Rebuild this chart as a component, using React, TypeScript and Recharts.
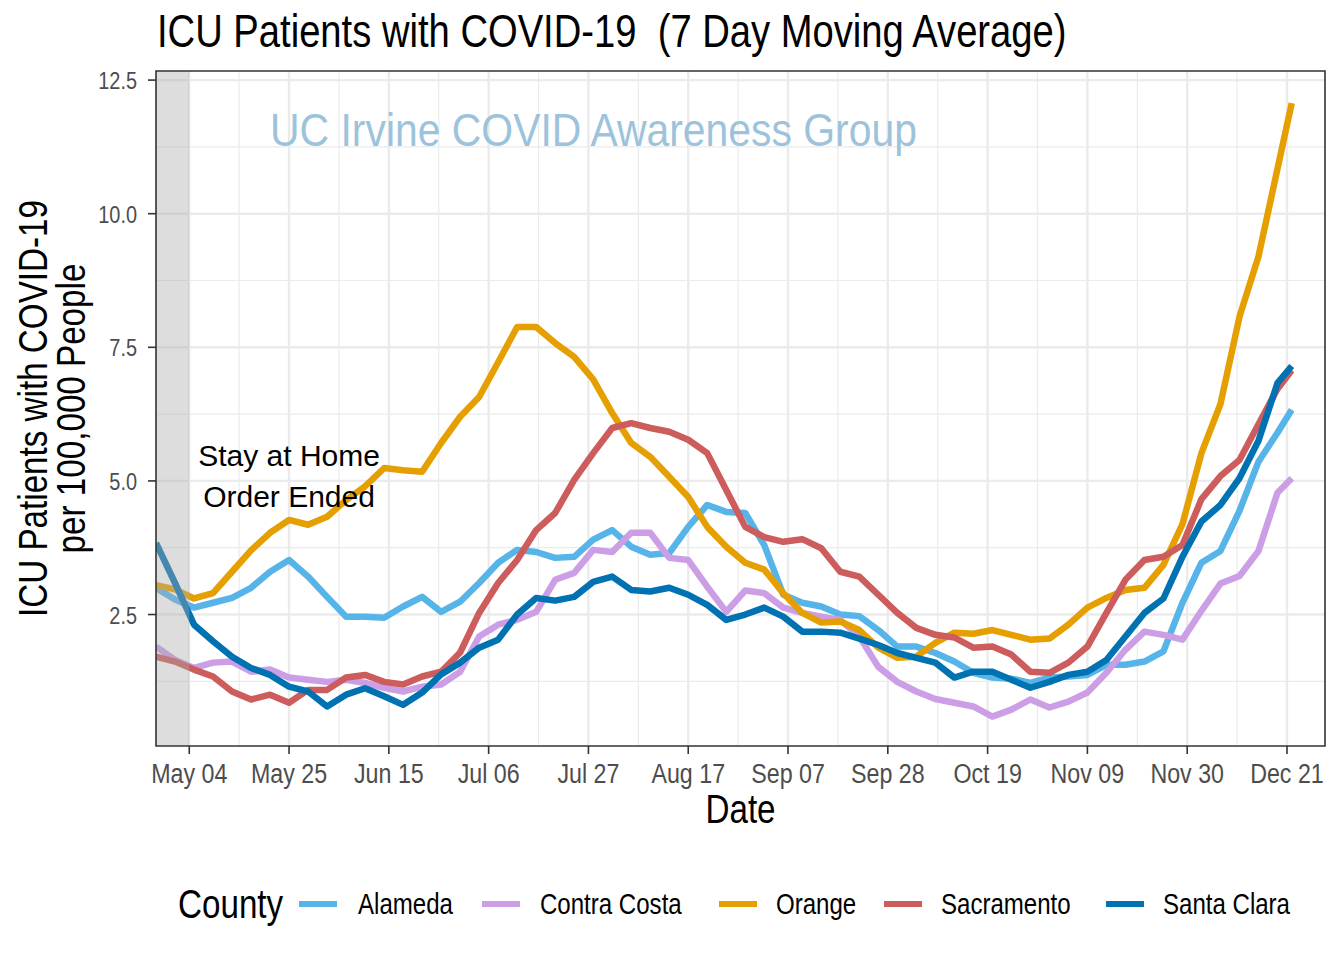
import React from 'react';
import {
  LineChart,
  Line,
  XAxis,
  YAxis,
  CartesianGrid,
  ReferenceArea,
  ReferenceDot,
  Legend,
  Customized,
} from 'recharts';

// ---------------- data ----------------
const dayOffsets = [
  0, 4, 8, 12, 16, 20, 24, 28, 32, 36, 40, 44, 48, 52, 56, 60, 64, 68, 72, 76,
  80, 84, 88, 92, 96, 100, 104, 108, 112, 116, 120, 124, 128, 132, 136, 140, 144,
  148, 152, 156, 160, 164, 168, 172, 176, 180, 184, 188, 192, 196, 200, 204, 208,
  212, 216, 220, 224, 228, 232, 236, 239,
];

const alameda = [
  3.0, 2.78, 2.63, 2.72, 2.81, 3.0, 3.3, 3.52, 3.21, 2.83,
  2.46, 2.46, 2.44, 2.65, 2.83, 2.55, 2.74, 3.09, 3.47, 3.71,
  3.67, 3.56, 3.58, 3.9, 4.08, 3.77, 3.62, 3.65, 4.14, 4.55,
  4.42, 4.4, 3.8, 2.87, 2.72, 2.65, 2.5, 2.47, 2.21, 1.9,
  1.9, 1.78, 1.62, 1.41, 1.32, 1.3, 1.22, 1.32, 1.34, 1.37,
  1.56, 1.56, 1.62, 1.81, 2.72, 3.47, 3.69, 4.44, 5.36, 5.9, 6.33,
];

const contraCosta = [
  1.9, 1.65, 1.5, 1.6, 1.62, 1.43, 1.47, 1.32, 1.28, 1.24,
  1.28, 1.22, 1.13, 1.06, 1.15, 1.19, 1.43, 2.09, 2.31, 2.4,
  2.55, 3.15, 3.28, 3.71, 3.67, 4.03, 4.03, 3.56, 3.52, 3.02,
  2.55, 2.95, 2.9, 2.63, 2.53, 2.46, 2.4, 2.09, 1.52, 1.24,
  1.06, 0.92, 0.85, 0.78, 0.59, 0.72, 0.91, 0.76, 0.87, 1.04,
  1.41, 1.84, 2.18, 2.12, 2.03, 2.57, 3.08, 3.22, 3.69, 4.78, 5.05,
];

const orange = [
  3.05, 2.97, 2.8, 2.9, 3.3, 3.7, 4.03, 4.27, 4.18, 4.33,
  4.64, 4.9, 5.24, 5.2, 5.17, 5.71, 6.2, 6.57, 7.22, 7.88,
  7.88, 7.58, 7.32, 6.9, 6.27, 5.71, 5.45, 5.08, 4.7, 4.14,
  3.77, 3.47, 3.34, 2.9, 2.53, 2.35, 2.37, 2.21, 1.88, 1.69,
  1.71, 1.97, 2.16, 2.14, 2.21, 2.12, 2.03, 2.05, 2.31, 2.63,
  2.81, 2.96, 3.0, 3.43, 4.19, 5.52, 6.44, 8.07, 9.2, 10.84, 12.07,
];

const sacramento = [
  1.71, 1.62, 1.47, 1.34, 1.06, 0.91, 1.0, 0.85, 1.09, 1.09,
  1.32, 1.37, 1.24, 1.19, 1.34, 1.43, 1.79, 2.53, 3.09, 3.52,
  4.08, 4.4, 5.02, 5.52, 5.99, 6.08, 5.99, 5.92, 5.77, 5.52,
  4.83, 4.14, 3.95, 3.86, 3.91, 3.74, 3.3, 3.21, 2.87, 2.53,
  2.25, 2.12, 2.07, 1.88, 1.9, 1.75, 1.43, 1.41, 1.6, 1.9,
  2.53, 3.15, 3.52, 3.58, 3.8, 4.66, 5.09, 5.39, 6.06, 6.72, 7.07,
];

const santaClara = [
  3.84, 3.09, 2.31, 2.0, 1.71, 1.5, 1.37, 1.15, 1.06, 0.78,
  1.0, 1.12, 0.97, 0.81, 1.04, 1.38, 1.6, 1.88, 2.03, 2.5,
  2.81, 2.76, 2.83, 3.11, 3.21, 2.96, 2.93, 3.0, 2.87, 2.68,
  2.4, 2.5, 2.63, 2.46, 2.18, 2.18, 2.16, 2.05, 1.93, 1.78,
  1.69, 1.6, 1.32, 1.43, 1.43, 1.28, 1.13, 1.24, 1.37, 1.43,
  1.65, 2.09, 2.53, 2.8, 3.58, 4.24, 4.55, 5.05, 5.75, 6.83, 7.15,
];

const counties = ['Alameda', 'Contra Costa', 'Orange', 'Sacramento', 'Santa Clara'];
const seriesValues = [alameda, contraCosta, orange, sacramento, santaClara];
const countyColors = ['#56B4E9', '#CC9EE6', '#E69F00', '#CD5C5C', '#0072B2'];

// x ticks: day offsets from Apr 27
const xTickDays = [7, 28, 49, 70, 91, 112, 133, 154, 175, 196, 217, 238];
const xTickLabels = [
  'May 04', 'May 25', 'Jun 15', 'Jul 06', 'Jul 27', 'Aug 17',
  'Sep 07', 'Sep 28', 'Oct 19', 'Nov 09', 'Nov 30', 'Dec 21',
];
const yTicks = [2.5, 5, 7.5, 10, 12.5];

const xDomain = [0, 246];
const yDomain = [0.04, 12.67];
const stayAtHomeEnd = 7;

// ---------------- derived ----------------
const chartData = dayOffsets.map((d, i) => {
  const row: Record<string, number> = { day: d };
  counties.forEach((c, k) => {
    row[c] = seriesValues[k][i];
  });
  return row;
});

const xMinor = xTickDays.slice(1).map((d, i) => (d + xTickDays[i]) / 2);
const yMinor = [yTicks[0] / 2, ...yTicks.slice(1).map((v, i) => (v + yTicks[i]) / 2)];

// ---------------- styling ----------------
const FONT = '"Liberation Sans", Arial, Helvetica, sans-serif';
const NARROW = 0.83;

const XTick = (props: any) => {
  const { x, y, payload } = props;
  const idx = xTickDays.indexOf(payload.value);
  const label = idx >= 0 ? xTickLabels[idx] : '';
  return (
    <text
      transform={`translate(${x},${y + 27}) scale(${NARROW},1)`}
      textAnchor="middle"
      fontSize={28}
      fontFamily={FONT}
      fill="#4D4D4D"
    >
      {label}
    </text>
  );
};

const YTick = (props: any) => {
  const { x, y, payload } = props;
  return (
    <text
      transform={`translate(${x},${y + 9}) scale(${NARROW},1)`}
      textAnchor="end"
      fontSize={24}
      fontFamily={FONT}
      fill="#4D4D4D"
    >
      {Number(payload.value).toFixed(1)}
    </text>
  );
};

const YAxisTitle = (props: any) => {
  const vb = props.viewBox || { x: 56, y: 71, width: 100, height: 675 };
  const cy = vb.y + vb.height / 2;
  return (
    <g fontFamily={FONT} fontSize={40} fill="#000">
      <text transform={`translate(47,${cy}) rotate(-90) scale(${NARROW},1)`} textAnchor="middle">
        ICU Patients with COVID-19
      </text>
      <text transform={`translate(85,${cy}) rotate(-90) scale(${NARROW},1)`} textAnchor="middle">
        per 100,000 People
      </text>
    </g>
  );
};

const XAxisTitle = (props: any) => {
  const vb = props.viewBox || { x: 156, y: 746, width: 1169, height: 90 };
  const cx = vb.x + vb.width / 2;
  return (
    <text
      transform={`translate(${cx},${vb.y + 77}) scale(${NARROW},1)`}
      textAnchor="middle"
      fontSize={40}
      fontFamily={FONT}
      fill="#000"
    >
      Date
    </text>
  );
};

const Annotation = (props: any) => {
  const vb = props.viewBox;
  if (!vb) return null;
  const cx = vb.x + (vb.width || 0) / 2;
  const cy = vb.y + (vb.height || 0) / 2;
  return (
    <g fontFamily={FONT} fontSize={30} fill="#000">
      <text x={cx} y={cy} textAnchor="middle">Stay at Home</text>
      <text x={cx} y={cy + 41} textAnchor="middle">Order Ended</text>
    </g>
  );
};

const Watermark = (props: any) => {
  const vb = props.viewBox;
  if (!vb) return null;
  const x = vb.x + (vb.width || 0) / 2;
  const y = vb.y + (vb.height || 0) / 2;
  return (
    <text
      transform={`translate(${x},${y}) scale(0.87,1)`}
      fontSize={47}
      fontFamily={FONT}
      fill="#9DC3DC"
      textAnchor="start"
    >
      UC Irvine COVID Awareness Group
    </text>
  );
};

const Title = () => (
  <text
    transform={`translate(157,47) scale(${NARROW},1)`}
    fontSize={46}
    fontFamily={FONT}
    fill="#000"
    style={{ whiteSpace: 'pre' }}
  >
    {'ICU Patients with COVID-19\u00A0\u00A0(7 Day Moving Average)'}
  </text>
);

const legendKeyX = [299, 482, 719, 884, 1106];
const legendLabelX = [358, 540, 776, 941, 1163];

const LegendContent = () => (
  <svg width={1344} height={70} style={{ display: 'block' }}>
    <text
      transform={`translate(178,48) scale(${NARROW},1)`}
      fontSize={40}
      fontFamily={FONT}
      fill="#000"
    >
      County
    </text>
    {counties.map((c, i) => (
      <g key={c}>
        <line
          x1={legendKeyX[i]}
          x2={legendKeyX[i] + 38}
          y1={34}
          y2={34}
          stroke={countyColors[i]}
          strokeWidth={6}
        />
        <text
          transform={`translate(${legendLabelX[i]},44) scale(${NARROW},1)`}
          fontSize={29}
          fontFamily={FONT}
          fill="#000"
        >
          {c}
        </text>
      </g>
    ))}
  </svg>
);

export default function App() {
  return (
    <div
      style={{
        position: 'absolute',
        left: 0,
        top: 0,
        width: 1344,
        height: 960,
        background: '#FFFFFF',
      }}
    >
      <LineChart
        width={1344}
        height={960}
        data={chartData}
        margin={{ top: 71, right: 19, bottom: 124, left: 56 }}
      >
        <CartesianGrid
          stroke="#EBEBEB"
          strokeWidth={1.2}
          horizontalValues={yMinor}
          verticalValues={xMinor}
        />
        <CartesianGrid
          stroke="#EBEBEB"
          strokeWidth={2.4}
          horizontalValues={yTicks}
          verticalValues={xTickDays}
        />
        <XAxis
          dataKey="day"
          type="number"
          domain={xDomain}
          ticks={xTickDays}
          allowDataOverflow
          height={90}
          tickSize={8}
          tickMargin={2}
          axisLine={false}
          tickLine={{ stroke: '#333333', strokeWidth: 1.6 }}
          tick={<XTick />}
          interval={0}
          label={XAxisTitle}
        />
        <YAxis
          type="number"
          domain={yDomain}
          ticks={yTicks}
          allowDataOverflow
          width={100}
          tickSize={8}
          tickMargin={11}
          axisLine={false}
          tickLine={{ stroke: '#333333', strokeWidth: 1.6 }}
          tick={<YTick />}
          interval={0}
          label={YAxisTitle}
        />
        {counties.map((c, i) => (
          <Line
            key={c}
            type="linear"
            dataKey={c}
            stroke={countyColors[i]}
            strokeWidth={6.5}
            strokeLinejoin="round"
            strokeLinecap="butt"
            dot={false}
            activeDot={false}
            isAnimationActive={false}
          />
        ))}
        <ReferenceArea
          x1={xDomain[0]}
          x2={stayAtHomeEnd}
          y1={yDomain[0]}
          y2={yDomain[1]}
          fill="#A9A9A9"
          fillOpacity={0.4}
          stroke="none"
          ifOverflow="visible"
          zIndex={450}
        />
        <ReferenceArea
          x1={xDomain[0]}
          x2={xDomain[1]}
          y1={yDomain[0]}
          y2={yDomain[1]}
          fill="none"
          fillOpacity={0}
          stroke="#333333"
          strokeWidth={1.6}
          ifOverflow="visible"
          zIndex={460}
        />
        <ReferenceDot x={28} y={5.285} r={0} fill="none" stroke="none" label={Annotation} />
        <ReferenceDot x={24} y={11.27} r={0} fill="none" stroke="none" label={Watermark} />
        <Customized component={Title} />
        <Legend
          layout="horizontal"
          verticalAlign="middle"
          align="center"
          content={LegendContent}
          wrapperStyle={{ position: 'absolute', left: 0, top: 870, width: 1344, height: 70 }}
        />
      </LineChart>
    </div>
  );
}
